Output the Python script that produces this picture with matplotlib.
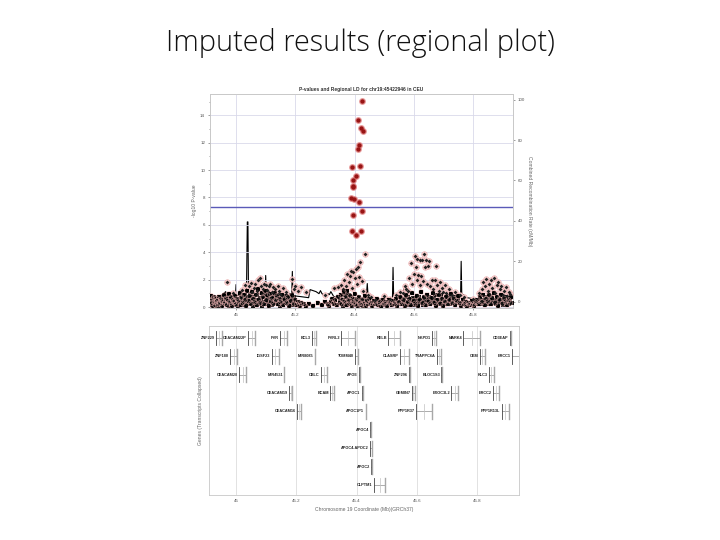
import matplotlib
matplotlib.use("Agg")
import matplotlib.pyplot as plt

# ---------------- data ----------------
peak_x = [45.424, 45.413, 45.421, 45.427, 45.416, 45.410, 45.392, 45.419, 45.404, 45.396,
          45.395, 45.394, 45.389, 45.397, 45.415, 45.426, 45.395, 45.393, 45.406, 45.421]
peak_y = [15.06, 13.65, 13.04, 12.87, 11.8, 11.5, 10.2, 10.3, 9.6, 9.3,
          8.85, 8.75, 7.93, 7.85, 7.65, 7.0, 6.7, 5.57, 5.25, 5.55]

ld_x = [44.969, 44.99, 45.02, 45.03, 45.045, 45.05, 45.055, 45.06, 45.065, 45.07,
        45.075, 45.08, 45.085, 45.09, 45.095, 45.1, 45.105, 45.11, 45.115, 45.12,
        45.125, 45.13, 45.14, 45.145, 45.15, 45.16, 45.17, 45.19, 45.195, 45.2,
        45.21, 45.22, 45.235, 45.3, 45.33, 45.345, 45.355, 45.36, 45.365, 45.37,
        45.375, 45.38, 45.383, 45.388, 45.39, 45.396, 45.4, 45.404, 45.408, 45.412,
        45.416, 45.42, 45.425, 45.43, 45.437, 45.445, 45.455, 45.47, 45.5, 45.52,
        45.54, 45.555, 45.565, 45.57, 45.575, 45.58, 45.585, 45.59, 45.595, 45.6,
        45.603, 45.607, 45.61, 45.612, 45.615, 45.62, 45.622, 45.625, 45.628, 45.63,
        45.635, 45.638, 45.64, 45.645, 45.648, 45.65, 45.655, 45.66, 45.665, 45.67,
        45.675, 45.68, 45.685, 45.69, 45.695, 45.7, 45.705, 45.71, 45.72, 45.73,
        45.74, 45.755, 45.77, 45.8, 45.82, 45.83, 45.835, 45.84, 45.845, 45.85,
        45.855, 45.86, 45.865, 45.87, 45.875, 45.88, 45.885, 45.89, 45.895, 45.9,
        45.905, 45.91, 45.915, 45.92, 45.925]
ld_y = [1.8, 1.05, 1.25, 1.6, 1.5, 1.75, 1.1, 1.4, 1.65, 1.2,
        1.95, 2.15, 1.55, 1.35, 1.7, 1.6, 1.25, 1.5, 1.7, 1.1,
        1.45, 1.3, 1.55, 1.2, 0.95, 1.4, 1.1, 2.05, 1.35, 1.5,
        1.15, 1.45, 1.1, 0.9, 1.4, 1.45, 1.6, 1.3, 2.0, 1.5,
        2.4, 1.8, 2.3, 2.6, 1.4, 2.55, 2.1, 2.75, 1.7, 2.9,
        2.2, 3.3, 1.9, 1.2, 3.85, 0.9, 0.7, 0.55, 0.8, 0.6,
        0.9, 1.1, 1.0, 1.5, 1.3, 1.15, 2.1, 3.2, 1.7, 2.4,
        3.75, 2.9, 1.95, 3.5, 2.35, 3.45, 1.6, 2.3, 3.4, 1.9,
        3.85, 2.95, 3.4, 1.7, 3.0, 3.35, 1.5, 2.0, 1.3, 1.95,
        3.0, 1.6, 1.2, 1.85, 1.4, 1.1, 1.6, 1.0, 1.3, 0.85,
        1.1, 0.9, 0.7, 0.6, 1.0, 1.3, 1.8, 1.5, 2.05, 1.2,
        1.7, 1.95, 1.4, 2.1, 1.0, 1.6, 1.85, 1.3, 1.55, 0.9,
        1.2, 1.45, 0.8, 1.1, 0.95]

bg_x = [44.916, 44.918, 44.92, 44.922, 44.925, 44.928, 44.93, 44.933, 44.936, 44.94,
        44.943, 44.946, 44.95, 44.953, 44.956, 44.96, 44.963, 44.966, 44.97, 44.973,
        44.976, 44.98, 44.983, 44.986, 44.99, 44.993, 44.996,
        45.0, 45.004, 45.008, 45.012, 45.015, 45.018, 45.022, 45.026, 45.03, 45.034,
        45.038, 45.042, 45.046, 45.05, 45.054, 45.058, 45.062, 45.066, 45.07, 45.074,
        45.078, 45.082, 45.086, 45.09, 45.094, 45.098, 45.102, 45.106, 45.11, 45.114,
        45.118, 45.122, 45.126, 45.13, 45.134, 45.138, 45.142, 45.146, 45.15, 45.155,
        45.16, 45.165, 45.17, 45.175, 45.18, 45.185, 45.19, 45.195, 45.2,
        45.205, 45.21, 45.215, 45.22, 45.228, 45.235, 45.245, 45.26, 45.275, 45.29,
        45.3, 45.31, 45.315, 45.32, 45.325, 45.33, 45.335, 45.34, 45.345,
        45.35, 45.353, 45.356, 45.36, 45.363, 45.366, 45.37, 45.373, 45.376, 45.38,
        45.383, 45.386, 45.39, 45.393, 45.396, 45.4, 45.403, 45.406, 45.41, 45.414,
        45.418, 45.422, 45.426, 45.43, 45.434, 45.438, 45.442, 45.446, 45.45,
        45.455, 45.46, 45.465, 45.47, 45.475, 45.48, 45.485, 45.49, 45.495, 45.5,
        45.505, 45.51, 45.515, 45.52, 45.525, 45.53, 45.535, 45.54, 45.545, 45.55,
        45.555, 45.56, 45.565, 45.57, 45.575, 45.58, 45.585, 45.59, 45.595, 45.6,
        45.605, 45.61, 45.615, 45.62, 45.625, 45.63, 45.635, 45.64, 45.645, 45.65,
        45.655, 45.66, 45.665, 45.67, 45.675, 45.68, 45.685, 45.69, 45.695, 45.7,
        45.705, 45.71, 45.715, 45.72, 45.725, 45.73, 45.735, 45.74, 45.745, 45.75,
        45.755, 45.76, 45.765, 45.77, 45.775, 45.78, 45.785, 45.79, 45.795, 45.8,
        45.805, 45.81, 45.815, 45.82, 45.825, 45.83, 45.835, 45.84, 45.845, 45.85,
        45.855, 45.86, 45.865, 45.87, 45.875, 45.88, 45.885, 45.89, 45.895, 45.9,
        45.905, 45.91, 45.915, 45.92, 45.925, 45.928]
bg_y = [0.8, 0.3, 0.55, 0.1, 0.7, 0.35, 0.15, 0.6, 0.45, 0.2,
        0.75, 0.3, 0.55, 0.1, 0.4, 0.85, 0.25, 0.6, 0.15, 0.45,
        0.95, 0.3, 0.7, 0.1, 0.5, 0.35, 0.8,
        0.2, 0.6, 0.4, 1.0, 0.15, 0.7, 0.3, 0.9, 0.5, 0.1,
        1.2, 0.45, 0.8, 0.25, 1.1, 0.6, 0.35, 0.9, 0.15, 1.3,
        0.55, 0.3, 1.0, 0.7, 0.2, 1.2, 0.5, 0.85, 0.1, 0.95,
        0.4, 0.65, 0.25, 1.0, 0.5, 0.8, 0.2, 0.6, 0.35, 0.9,
        0.15, 0.55, 0.3, 0.7, 0.1, 0.45, 0.85, 0.25, 0.5,
        0.15, 0.4, 0.1, 0.3, 0.2, 0.05, 0.25, 0.1, 0.3, 0.15,
        0.4, 0.2, 0.1, 0.35, 0.6, 0.25, 0.5, 0.15, 0.75,
        0.3, 0.9, 0.2, 0.55, 1.1, 0.4, 0.7, 0.15, 1.2, 0.5,
        0.25, 0.8, 0.1, 0.6, 0.35, 0.95, 0.2, 0.5, 0.1, 0.7,
        0.3, 0.15, 0.55, 0.25, 0.8, 0.1, 0.45, 0.2, 0.6,
        0.3, 0.1, 0.45, 0.2, 0.6, 0.15, 0.35, 0.05, 0.5, 0.25,
        0.4, 0.1, 0.55, 0.3, 0.15, 0.45, 0.2, 0.6, 0.1, 0.35,
        0.7, 0.2, 0.5, 0.1, 0.85, 0.35, 0.6, 0.15, 1.0, 0.45,
        0.25, 0.8, 0.1, 0.55, 1.1, 0.3, 0.7, 0.15, 0.9, 0.4,
        0.2, 0.65, 1.0, 0.3, 0.1, 0.55, 0.85, 0.25, 0.6, 0.1,
        0.4, 0.75, 0.2, 0.5, 0.95, 0.3, 0.6, 0.15, 0.45, 0.8,
        0.3, 0.1, 0.55, 0.2, 0.4, 0.05, 0.3, 0.15, 0.45, 0.2,
        0.1, 0.35, 0.55, 0.2, 0.7, 0.35, 0.9, 0.15, 0.6, 0.4,
        0.85, 0.2, 0.65, 1.0, 0.3, 0.75, 0.1, 0.55, 0.9, 0.25,
        0.6, 0.4, 0.15, 0.5, 0.3, 0.7]

bg2_x = [44.914, 44.917, 44.921, 44.924, 44.927, 44.931, 44.935, 44.938, 44.942, 44.945,
         44.948, 44.952, 44.955, 44.958, 44.962, 44.965, 44.968, 44.972, 44.975, 44.978,
         44.982, 44.985, 44.988, 44.992, 44.995, 44.998,
         45.002, 45.006, 45.01, 45.014, 45.017, 45.02, 45.024, 45.028, 45.032, 45.036,
         45.04, 45.044, 45.048, 45.052, 45.056, 45.06, 45.064, 45.068, 45.072, 45.076,
         45.08, 45.084, 45.088, 45.092, 45.096, 45.1, 45.104, 45.108, 45.112, 45.116,
         45.12, 45.124, 45.128, 45.132, 45.136, 45.14, 45.144, 45.148, 45.152, 45.157,
         45.162, 45.167, 45.172, 45.177, 45.182, 45.187, 45.192, 45.197,
         45.352, 45.358, 45.362, 45.368, 45.372, 45.378, 45.382, 45.388, 45.392, 45.398,
         45.402, 45.408, 45.412, 45.416, 45.42, 45.424, 45.428, 45.432, 45.436, 45.44,
         45.444, 45.448,
         45.458, 45.468, 45.478, 45.488, 45.498, 45.508, 45.518, 45.528, 45.538, 45.548,
         45.558, 45.562, 45.568, 45.572, 45.578, 45.582, 45.588, 45.592, 45.598, 45.602,
         45.608, 45.612, 45.618, 45.622, 45.628, 45.632, 45.638, 45.642, 45.648, 45.652,
         45.658, 45.662, 45.668, 45.672, 45.678, 45.682, 45.688, 45.692, 45.698, 45.702,
         45.708, 45.712, 45.718, 45.722, 45.728, 45.732, 45.738, 45.742, 45.748,
         45.758, 45.768, 45.778, 45.788, 45.798, 45.808, 45.818, 45.828, 45.832, 45.838,
         45.842, 45.848, 45.852, 45.858, 45.862, 45.868, 45.872, 45.878, 45.882, 45.888,
         45.892, 45.898, 45.902, 45.908, 45.912, 45.918, 45.922, 45.926, 45.93]
bg2_y = [0.45, 0.15, 0.65, 0.25, 0.5, 0.05, 0.3, 0.65, 0.4, 0.1,
         0.5, 0.3, 0.65, 0.2, 0.5, 0.35, 0.7, 0.3, 0.1, 0.55,
         0.2, 0.45, 0.65, 0.15, 0.55, 0.3,
         0.45, 0.1, 0.6, 0.35, 0.85, 0.5, 0.15, 0.65, 0.3, 0.75,
         0.2, 0.6, 0.95, 0.4, 0.1, 0.75, 0.5, 0.3, 0.85, 0.2,
         0.65, 0.45, 0.1, 0.9, 0.4, 0.6, 0.25, 1.05, 0.45, 0.7,
         0.15, 0.9, 0.55, 0.3, 0.65, 0.45, 0.85, 0.1, 0.55, 0.7,
         0.35, 0.8, 0.5, 0.25, 0.6, 0.35, 0.15, 0.7,
         0.6, 0.45, 0.1, 0.85, 0.35, 0.65, 0.9, 0.4, 0.75, 0.15,
         0.6, 0.35, 0.45, 0.15, 0.55, 0.4, 0.1, 0.5, 0.3, 0.2,
         0.6, 0.35,
         0.2, 0.35, 0.3, 0.25, 0.15, 0.3, 0.2, 0.35, 0.4, 0.25,
         0.45, 0.3, 0.6, 0.4, 0.15, 0.7, 0.45, 0.3, 0.65, 0.15,
         0.5, 0.35, 0.75, 0.3, 0.5, 0.15, 0.4, 0.65, 0.2, 0.75,
         0.45, 0.3, 0.6, 0.85, 0.4, 0.2, 0.5, 0.9, 0.35, 0.6,
         0.2, 0.45, 0.8, 0.25, 0.65, 0.4, 0.7, 0.3, 0.55,
         0.2, 0.3, 0.15, 0.2, 0.25, 0.2, 0.4, 0.55, 0.2, 0.45,
         0.7, 0.25, 0.6, 0.4, 0.8, 0.35, 0.55, 0.2, 0.45, 0.7,
         0.3, 0.5, 0.15, 0.75, 0.3, 0.55, 0.2, 0.45, 0.3]

recomb_x = [44.915, 44.93, 44.95, 44.965, 44.968, 44.98, 44.998, 45.0, 45.002, 45.02,
            45.035, 45.038, 45.04, 45.042, 45.05, 45.052, 45.054, 45.08, 45.098, 45.1,
            45.102, 45.13, 45.16, 45.188, 45.19, 45.192, 45.22, 45.245, 45.25, 45.26,
            45.27, 45.28, 45.285, 45.29, 45.3, 45.31, 45.315, 45.32, 45.33, 45.35,
            45.37, 45.4, 45.43, 45.44, 45.443, 45.446, 45.47, 45.5, 45.528, 45.53,
            45.532, 45.56, 45.568, 45.572, 45.575, 45.6, 45.65, 45.7, 45.74, 45.758,
            45.76, 45.762, 45.78, 45.8, 45.85, 45.9, 45.935]
recomb_rate = [2, 2.5, 3, 5, 2, 3, 3, 8.5, 3, 3.5,
               3, 39.5, 39.5, 4, 3, 9, 3, 4, 3, 13,
               4, 3, 3.5, 4, 15, 3, 2.5, 2, 6, 5.5,
               5, 4, 5.5, 4, 3, 4, 3.5, 5, 2.5, 2,
               1.5, 1.5, 2, 3, 9, 2, 1, 1.5, 2, 17,
               3, 2, 7.5, 4, 2, 1.5, 1, 2, 2.5, 3,
               20, 4, 2, 1.5, 1, 1.5, 2]

gene_names = ["ZNF229", "CEACAM22P", "PVR", "BCL3", "PVRL2", "RELB", "NKPD1", "MARK4", "CD3EAP",
              "ZNF180", "IGSF23", "MIR8085", "TOMM40", "CLASRP", "TRAPPC6A", "CKM", "ERCC1",
              "CEACAM20", "MIR4531", "CBLC", "APOE", "ZNF296", "BLOC1S3", "KLC3",
              "CEACAM19", "BCAM", "APOC1", "GEMIN7", "EXOC3L2", "ERCC2",
              "CEACAM16", "APOC1P1", "PPP1R37", "PPP1R13L",
              "APOC4", "APOC4-APOC2", "APOC2", "CLPTM1"]
gene_rows = [1, 1, 1, 1, 1, 1, 1, 1, 1,
             2, 2, 2, 2, 2, 2, 2, 2,
             3, 3, 3, 3, 3, 3, 3,
             4, 4, 4, 4, 4, 4,
             5, 5, 5, 5,
             6, 7, 8, 9]
gene_start = [44.932, 45.040, 45.147, 45.252, 45.349, 45.505, 45.652, 45.754, 45.909,
              44.979, 45.118, 45.262, 45.395, 45.543, 45.666, 45.809, 45.917,
              45.010, 45.160, 45.281, 45.409, 45.575, 45.682, 45.840,
              45.175, 45.312, 45.417, 45.583, 45.715, 45.854,
              45.202, 45.430, 45.597, 45.882,
              45.445, 45.445, 45.449, 45.458]
gene_end = [44.953, 45.063, 45.170, 45.265, 45.395, 45.545, 45.664, 45.810, 45.913,
            45.004, 45.142, 45.262, 45.406, 45.574, 45.681, 45.826, 45.982,
            45.033, 45.160, 45.303, 45.413, 45.579, 45.685, 45.856,
            45.187, 45.324, 45.422, 45.595, 45.737, 45.874,
            45.214, 45.432, 45.650, 45.906,
            45.448, 45.452, 45.452, 45.496]

xticks = [45.0, 45.2, 45.4, 45.6, 45.8]
xtick_labels = ["45", "45.2", "45.4", "45.6", "45.8"]
left_ticks = [0, 2, 4, 6, 8, 10, 12, 14]
right_ticks = [0, 20, 40, 60, 80, 100]
threshold = 7.3

# ---------------- figure ----------------
W, H = 720, 540
fig = plt.figure(figsize=(7.2, 5.4), dpi=100)
fig.patch.set_facecolor("white")

def rect(l, t, r, b):
    return [l / W, 1 - b / H, (r - l) / W, (b - t) / H]

FONT = "Liberation Sans"
grid_c = "#d9d9ea"
spine_c = "#c8c8c8"
tick_c = "#555555"

fig.text(0.5, 1 - 43 / H, "Imputed results (regional plot)", ha="center", va="center",
         fontsize=20.8, family="Open Sans", fontweight="light", color="#111111")

# top panel
ax1 = fig.add_axes(rect(210, 94, 513, 308))
ax1r = ax1.twinx()
ax1.set_zorder(ax1r.get_zorder() + 1)
ax1.patch.set_visible(False)

ax1.set_xlim(44.912, 45.935)
ax1.set_ylim(-0.07, 15.55)
ax1r.set_ylim(-3.1, 102.8)

ax1r.plot(recomb_x, recomb_rate, color="black", lw=0.8, zorder=1)

ax1.set_xticks(xticks)
ax1.set_xticklabels(xtick_labels)
ax1.set_yticks(left_ticks)
ax1.set_yticks([1, 3, 5, 7, 9, 11, 13, 15], minor=True)
ax1r.set_yticks(right_ticks)
ax1.grid(True, which="major", color=grid_c, lw=0.6)
ax1.set_axisbelow(True)

ax1.axhline(threshold, color="#5a5ab8", lw=1.0, zorder=2)

ax1.scatter(ld_x, ld_y, s=16, facecolor="#f8d4d4", edgecolor="#eaa8a8", linewidths=0.4, zorder=3)
ax1.scatter(bg_x, bg_y, s=5, marker="s", color="black", linewidths=0, zorder=4)
ax1.scatter(bg2_x, bg2_y, s=5, marker="s", color="#111111", linewidths=0, zorder=4)
ax1.scatter(bg_x, bg_y, s=14, facecolor="none", edgecolor="#eab0b0", linewidths=0.4,
            alpha=0.8, zorder=5)
ax1.scatter(ld_x, ld_y, s=4, marker="D", color="#222222", linewidths=0, zorder=6)
ax1.scatter(peak_x, peak_y, s=24, color="#e07c7c", alpha=0.8, linewidths=0, zorder=7)
ax1.scatter(peak_x, peak_y, s=10, color="#981414", linewidths=0, zorder=8)

for a in (ax1, ax1r):
    for s in a.spines.values():
        s.set_color(spine_c)
        s.set_linewidth(0.6)
    a.tick_params(which="both", labelsize=3.2, length=1.5, width=0.4, colors=tick_c, pad=2)
    for lab in a.get_yticklabels() + a.get_xticklabels():
        lab.set_family(FONT)
ax1.tick_params(which="minor", length=1.0)

ax1.set_title("P-values and Regional LD for chr19:45422946 in CEU", fontsize=3.5,
              fontweight="bold", family=FONT, color="#333333", pad=2)
ax1.set_ylabel("-log10 P-value", fontsize=3.6, family=FONT, color="#666666", labelpad=2)
ax1r.set_ylabel("Combined Recombination Rate (cM/Mb)", fontsize=3.6, family=FONT,
                color="#666666", rotation=270, labelpad=5)

# bottom panel (genes)
ax2 = fig.add_axes(rect(209, 326, 519, 495))
ax2.set_xlim(44.910, 45.9395)
ax2.set_ylim(9.55, 0.35)
ax2.set_xticks(xticks)
ax2.set_xticklabels(xtick_labels)
ax2.set_yticks([])
ax2.grid(True, axis="x", color="#dddddd", lw=0.6)
ax2.set_axisbelow(True)
for s in ax2.spines.values():
    s.set_color(spine_c)
    s.set_linewidth(0.6)
ax2.tick_params(labelsize=3.2, length=0, colors=tick_c, pad=3)
for lab in ax2.get_xticklabels():
    lab.set_family(FONT)

for name, row, gs, ge in zip(gene_names, gene_rows, gene_start, gene_end):
    ax2.plot([gs, ge], [row, row], color="#8c8c8c", lw=0.5, zorder=3)
    ax2.plot([gs, gs], [row - 0.4, row + 0.4], color="#444444", lw=0.6, zorder=4)
    ax2.plot([ge, ge], [row - 0.4, row + 0.4], color="#a8a8a8", lw=1.0, zorder=4)
    if ge - gs > 0.012:
        ax2.plot([(gs + ge) / 2, (gs + ge) / 2], [row - 0.4, row + 0.4],
                 color="#c0c0c0", lw=0.5, zorder=4)
    ax2.text(gs - 0.004, row, name, ha="right", va="center", fontsize=2.8,
             fontweight="bold", family=FONT, color="#222222", zorder=5)

ax2.set_xlabel("Chromosome 19 Coordinate (Mb)(GRCh37)", fontsize=3.6, family=FONT,
               color="#666666", labelpad=3)
ax2.set_ylabel("Genes (Transcripts Collapsed)", fontsize=3.6, family=FONT,
               color="#666666", labelpad=4)

fig.savefig("out.png", dpi=100)
